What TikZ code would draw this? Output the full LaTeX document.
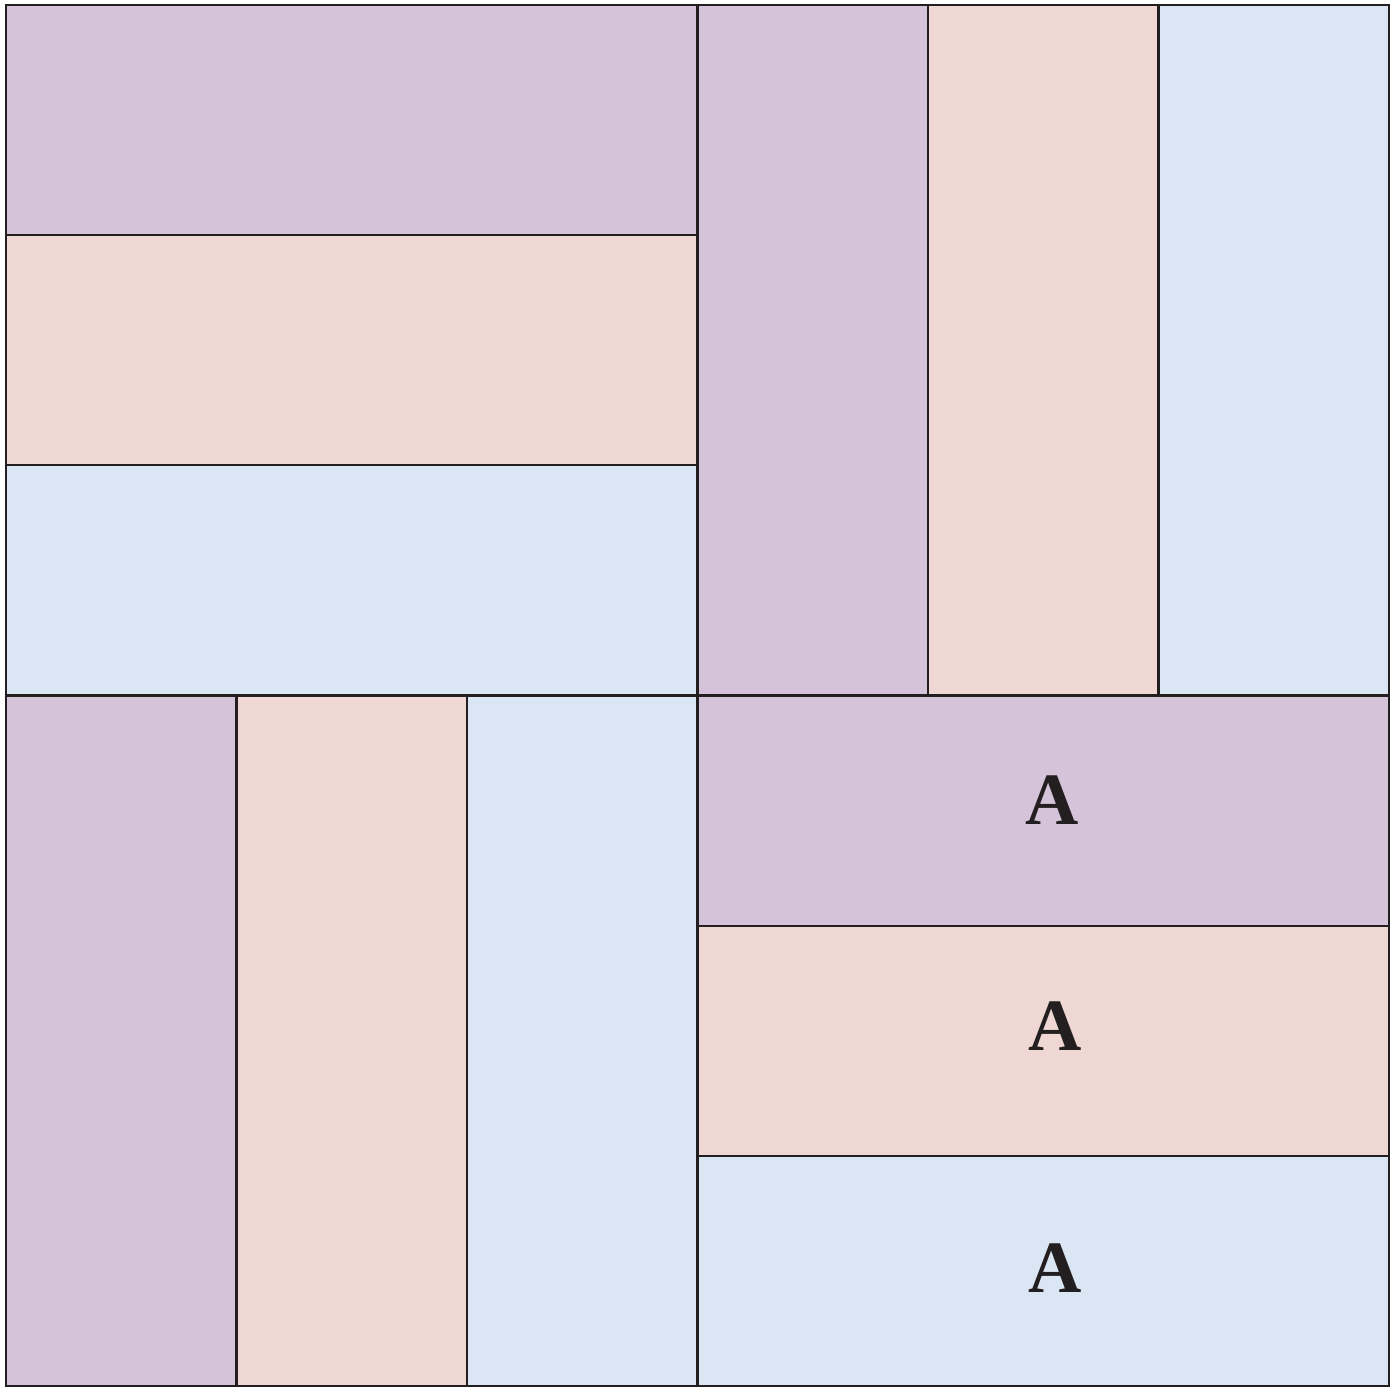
\documentclass[tikz,border=0pt]{standalone}
\usepackage{fontspec}
\setmainfont{Liberation Serif}
\definecolor{plum}{HTML}{D5C3D9}
\definecolor{rose}{HTML}{EFD8D3}
\definecolor{sky}{HTML}{DBE6F4}
\definecolor{ink}{HTML}{231F20}

\begin{document}
\begin{tikzpicture}[
    strip/.style={draw=ink, line width=0.65pt},
    lbl/.style={text=ink, inner sep=0pt, font=\bfseries\fontsize{21}{25}\selectfont}
  ]
    \useasboundingbox (0,0) rectangle (13.97,13.87);
    \begin{scope}[shift={(0.06,0.01)}, x=2.305cm, y=2.3017cm]
      % four blocks of three strips
      \foreach \i/\c in {0/plum, 1/rose, 2/sky} {
        \draw[strip, fill=\c] (0,5-\i) rectangle ++(3,1);
        \draw[strip, fill=\c] (3+\i,3) rectangle ++(1,3);
        \draw[strip, fill=\c] (\i,0) rectangle ++(1,3);
        \draw[strip, fill=\c] (3,2-\i) rectangle ++(3,1);
      }
      \draw[draw=ink, line width=0.75pt] (0,0) rectangle (6,6);
    \end{scope}
    \node[lbl] (top) at (10.52,5.87) {A};
    \node[lbl] (mid) at (10.55,3.61) {A};
    \node[lbl] (bot) at (10.55,1.19) {A};
  \end{tikzpicture}
\end{document}
